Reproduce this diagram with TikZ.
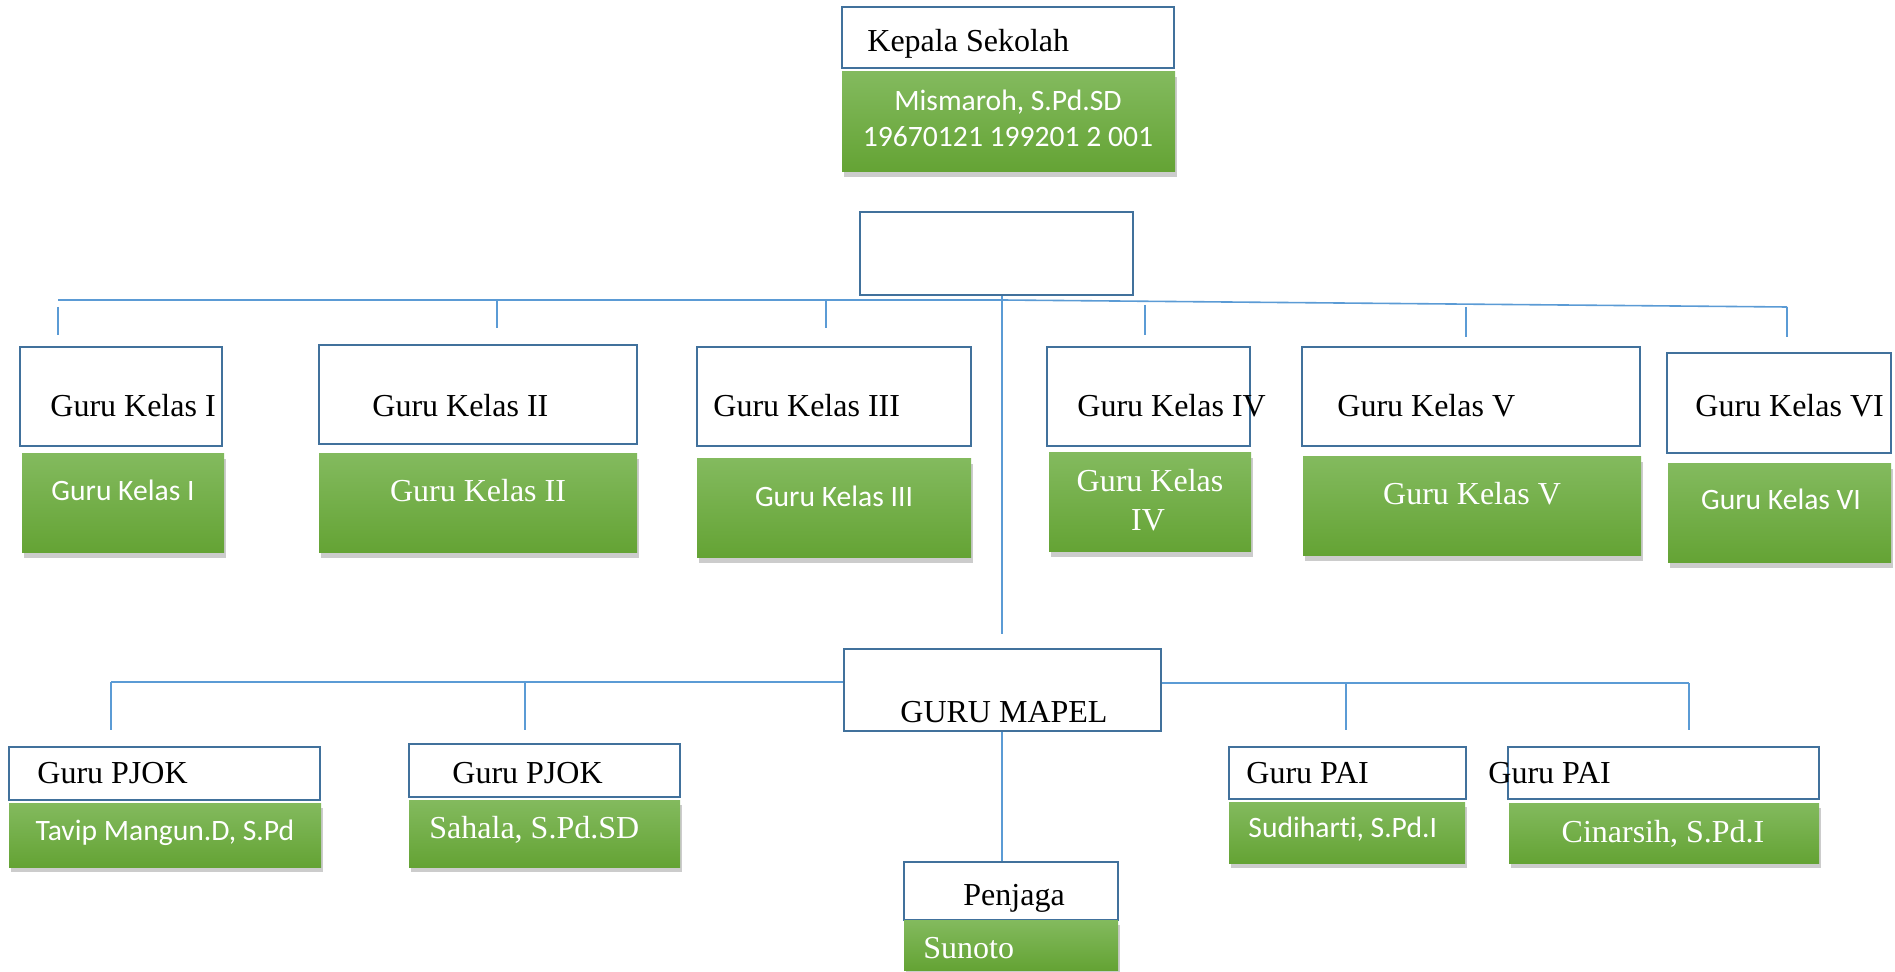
\documentclass[tikz,border=0pt]{standalone}
\usepackage{fontspec}
\setmainfont{Liberation Serif}
\newfontfamily\calibri[Ligatures = NoCommon]{Carlito}
\usetikzlibrary{fit,shadows}
\definecolor{boxblue}{RGB}{65,113,156}
\definecolor{linkblue}{RGB}{91,155,213}
\definecolor{greentop}{RGB}{131,186,94}
\definecolor{greenbot}{RGB}{100,163,52}
\tikzset{
    whitebox/.style = {draw = boxblue, line width = 1.4pt, fill = white, inner sep = 0pt},
    greenbox/.style = {inner sep = 0pt, top color = greentop, bottom color = greenbot,
        drop shadow = {shadow xshift = 1pt, shadow yshift = -2.5pt, fill = black, opacity = 0.2}},
    boxtext/.style = {font = \fontsize{16}{19}\selectfont, inner sep = 0pt, anchor = base west},
    greentext/.style = {font = \fontsize{16}{19}\selectfont, text = white, inner sep = 0pt, anchor = base},
    calibritext/.style = {font = \calibri\fontsize{14.8}{17}\selectfont, text = white, inner sep = 0pt, anchor = base},
    link/.style = {draw = linkblue, line width = 0.8pt}
}
\begin{document}
\begin{tikzpicture}[x = 0.5pt, y = -0.5pt]
        \useasboundingbox (0, 0) rectangle (1895, 972);

        % kepala sekolah
        \node[whitebox, fit = {(842, 7) (1174, 68)}] (kepala) {};
        \node[boxtext] (kepalaTxt) at (867, 52) {Kepala Sekolah};
        \node[greenbox, fit = {(842, 72) (1175, 172)}] (kepalaNama) {};
        \node[calibritext] (kepalaNamaA) at (1008, 111) {Mismaroh, S.Pd.SD};
        \node[calibritext] (kepalaNamaB) at (1008, 147) {19670121 199201 2 001};
        \node[whitebox, fit = {(860, 212) (1133, 295)}] (wakil) {};

        % guru kelas
        \node[whitebox, fit = {(20, 347) (222, 446)}] (kelasA) {};
        \node[boxtext] (kelasATxt) at (50, 417) {Guru Kelas I};
        \node[greenbox, fit = {(22, 454) (224, 553)}] (kelasANama) {};
        \node[calibritext] (kelasANamaTxt) at (123, 501) {Guru Kelas I};

        \node[whitebox, fit = {(319, 345) (637, 444)}] (kelasB) {};
        \node[boxtext] (kelasBTxt) at (372, 417) {Guru Kelas II};
        \node[greenbox, fit = {(319, 454) (637, 553)}] (kelasBNama) {};
        \node[greentext] (kelasBNamaTxt) at (478, 502) {Guru Kelas II};

        \node[whitebox, fit = {(697, 347) (971, 446)}] (kelasC) {};
        \node[boxtext] (kelasCTxt) at (713, 417) {Guru Kelas III};
        \node[greenbox, fit = {(697, 459) (971, 558)}] (kelasCNama) {};
        \node[calibritext] (kelasCNamaTxt) at (834, 507) {Guru Kelas III};

        \node[whitebox, fit = {(1047, 347) (1250, 446)}] (kelasD) {};
        \node[boxtext] (kelasDTxt) at (1077, 417) {Guru Kelas IV};
        \node[greenbox, fit = {(1049, 453) (1251, 552)}] (kelasDNama) {};
        \node[greentext] (kelasDNamaA) at (1150, 492) {Guru Kelas};
        \node[greentext] (kelasDNamaB) at (1148, 531) {IV};

        \node[whitebox, fit = {(1302, 347) (1640, 446)}] (kelasE) {};
        \node[boxtext] (kelasETxt) at (1337, 417) {Guru Kelas V};
        \node[greenbox, fit = {(1303, 457) (1641, 556)}] (kelasENama) {};
        \node[greentext] (kelasENamaTxt) at (1472, 505) {Guru Kelas V};

        \node[whitebox, fit = {(1667, 353) (1891, 453)}] (kelasF) {};
        \node[boxtext] (kelasFTxt) at (1695, 417) {Guru Kelas VI};
        \node[greenbox, fit = {(1668, 464) (1891, 563)}] (kelasFNama) {};
        \node[calibritext] (kelasFNamaTxt) at (1781, 510) {Guru Kelas VI};

        % guru mapel
        \node[whitebox, fit = {(844, 649) (1161, 731)}] (mapel) {};
        \node[boxtext] (mapelTxt) at (900, 722) {GURU MAPEL};

        \node[whitebox, fit = {(9, 747) (320, 800)}] (pjokA) {};
        \node[boxtext] (pjokATxt) at (37, 783) {Guru PJOK};
        \node[greenbox, fit = {(9, 803) (321, 867)}] (pjokANama) {};
        \node[calibritext] (pjokANamaTxt) at (165, 840) {Tavip Mangun.D, S.Pd};

        \node[whitebox, fit = {(409, 744) (680, 797)}] (pjokB) {};
        \node[boxtext] (pjokBTxt) at (452, 783) {Guru PJOK};
        \node[greenbox, fit = {(409, 800) (680, 867)}] (pjokBNama) {};
        \node[greentext, anchor = base west] (pjokBNamaTxt) at (429, 838) {Sahala, S.Pd.SD};

        \node[whitebox, fit = {(1229, 747) (1466, 799)}] (paiA) {};
        \node[boxtext] (paiATxt) at (1246, 783) {Guru PAI};
        \node[greenbox, fit = {(1229, 802) (1465, 863)}] (paiANama) {};
        \node[calibritext, anchor = base west] (paiANamaTxt) at (1248, 837) {Sudiharti, S.Pd.I};

        \node[whitebox, fit = {(1508, 747) (1819, 799)}] (paiB) {};
        \node[boxtext] (paiBTxt) at (1488, 783) {Guru PAI};
        \node[greenbox, fit = {(1509, 803) (1819, 863)}] (paiBNama) {};
        \node[greentext] (paiBNamaTxt) at (1663, 842) {Cinarsih, S.Pd.I};

        \node[whitebox, fit = {(904, 862) (1118, 920)}] (penjaga) {};
        \node[boxtext] (penjagaTxt) at (963, 905) {Penjaga};
        \node[greenbox, fit = {(904, 920) (1118, 970)}] (penjagaNama) {};
        \node[greentext, anchor = base west] (penjagaNamaTxt) at (923, 958) {Sunoto};

        % connectors
        \coordinate (busL) at (58, 300);
        \coordinate (busM) at (1002, 300);
        \coordinate (busR) at (1787, 307);
        \coordinate (trunkEnd) at (1002, 634);
        \draw[link] (busL) -- (busM) -- (busR);
        \draw[link] (wakil.south -| busM) -- (trunkEnd);
        \foreach \x/\a/\b [count = \i] in {58/307/335, 497/300/328, 826/300/328,
            1145/305/335, 1466/307/337, 1787/307/337} {
            \coordinate (kelasTop\i) at (\x, \a);
            \coordinate (kelasBot\i) at (\x, \b);
            \draw[link] (kelasTop\i) -- (kelasBot\i);
        }

        \coordinate (mapelL) at (111, 682);
        \coordinate (mapelR) at (1689, 683);
        \draw[link] (mapelL) -- (mapelL -| mapel.west);
        \draw[link] (mapelR -| mapel.east) -- (mapelR);
        \foreach \x/\a/\b [count = \i] in {111/682/730, 525/682/730, 1346/683/730, 1689/683/730} {
            \coordinate (mapelTop\i) at (\x, \a);
            \coordinate (mapelBot\i) at (\x, \b);
            \draw[link] (mapelTop\i) -- (mapelBot\i);
        }
        \draw[link] (mapel.south -| trunkEnd) -- (penjaga.north -| trunkEnd);

    \end{tikzpicture}
\end{document}
